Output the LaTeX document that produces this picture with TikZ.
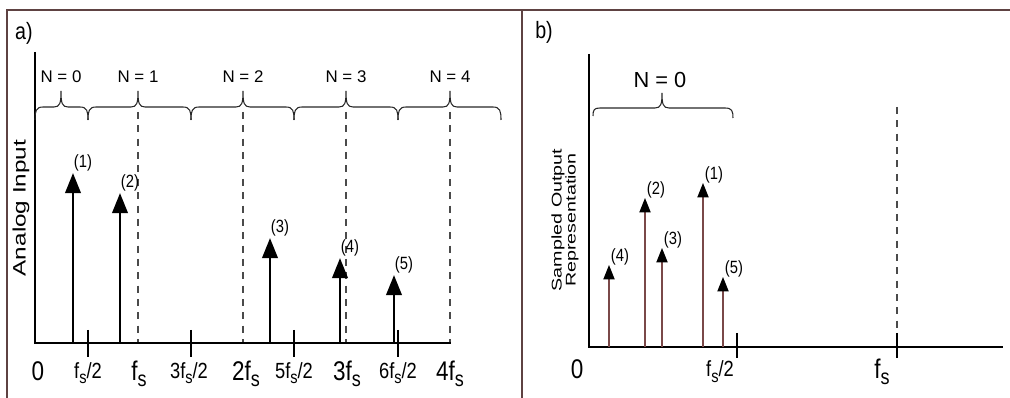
\documentclass[tikz,border=0pt]{standalone}
\usepackage{fontspec}
\setmainfont{Liberation Sans}
\usepackage{graphicx}
\usetikzlibrary{arrows.meta}
\definecolor{framebrown}{HTML}{5E4242}
\definecolor{stembrown}{HTML}{7A4848}
\definecolor{dashgray}{HTML}{4A4A4A}
\newcommand{\fsub}{f\raisebox{-0.45ex}{\scalebox{0.8}{s}}}
\newcommand{\tall}[1]{\scalebox{1}[1.2]{#1}}
\tikzset{
  framebox/.style={draw=framebrown,line width=0.9pt},
  axisline/.style={line width=2.1pt,color=black,line join=miter},
  tickline/.style={line width=1.6pt,color=black},
  zoneline/.style={dashgray,line width=0.8pt,dash pattern=on 5pt off 4.5pt},
  braceline/.style={line width=0.75pt,color=black!85},
  bigstem/.style={line width=2.1pt,-{Triangle[length=5mm,width=3.8mm]}},
  smallstem/.style={line width=0.9pt,color=stembrown,
                    -{Triangle[length=3.6mm,width=2.8mm,color=black]}},
  tagtext/.style={font=\fontsize{14}{14}\selectfont,inner sep=0pt},
  zonetext/.style={font=\fontsize{12}{12}\selectfont,inner sep=0pt},
  pulsetext/.style={font=\fontsize{10.5}{10.5}\selectfont,inner sep=0pt},
  bigtick/.style={font=\fontsize{16}{16}\selectfont,anchor=base,inner sep=0pt},
  halftick/.style={font=\fontsize{13}{13}\selectfont,anchor=base,inner sep=0pt}
}

\begin{document}
\begin{tikzpicture}[x=0.025cm,y=-0.025cm]
  \useasboundingbox (0,0) rectangle (1010,398);
  % frame and panel tags
  \draw[framebox] (7,398) -- (7,10) -- (1010,10);
  \draw[framebox] (522,10) -- (522,398);
  \node[tagtext] (taga) at (24,33) {\tall{a)}};
  \node[tagtext] (tagb) at (544,32) {\tall{b)}};

  % ---- a) analog input
  \foreach \x in {138,243,346,450}
    \draw[zoneline] (\x,112) -- (\x,343);
  \foreach \x in {88,191,294,398}
    \draw[tickline] (\x,330) -- (\x,357);
  \draw[axisline] (35,52) -- (35,343) -- (451,343);
  \foreach \xa/\xm/\xb/\n in {35/61/88/0, 88/138/191/1, 191/243/294/2,
                             294/346/398/3, 398/450/501/4}{
    \draw[braceline] (\xa,120) .. controls (\xa,111) and ({\xa+1},107) .. ({\xa+8},107)
      -- ({\xm-7},107) .. controls ({\xm-1},107) and (\xm,103) .. (\xm,91)
      .. controls (\xm,103) and ({\xm+1},107) .. ({\xm+7},107)
      -- ({\xb-8},107) .. controls ({\xb-1},107) and (\xb,111) .. (\xb,120);
    \node[zonetext] (na\n) at (\xm,77) {N = \n};
  }
  \foreach \x/\y/\n in {73/173/1, 120/193/2, 270/238/3, 340/258/4, 394/275/5}{
    \draw[bigstem] (\x,343) -- (\x,\y);
    \node[pulsetext] (pa\n) at ({\x+10},{\y-10}) {\tall{(\n)}};
  }
  \foreach \x/\lab [count=\i] in {38/0, 139/\fsub, 246/2\fsub, 347/3\fsub, 450/4\fsub}
    \node[bigtick] (tka\i) at (\x,380) {\tall{\lab}};
  \foreach \x/\lab [count=\i] in {88/{\fsub/2}, 189/{3\fsub/2}, 294/{5\fsub/2}, 398/{6\fsub/2}}
    \node[halftick] (hka\i) at (\x,378) {\tall{\lab}};
  \node[rotate=90,font=\fontsize{12.8}{12.8}\selectfont,inner sep=0pt] (ylaba) at (21,208)
    {\scalebox{1.35}[1]{Analog Input}};

  % ---- b) sampled output
  \draw[zoneline] (897,107) -- (897,347);
  \foreach \x in {737,897}
    \draw[tickline] (\x,333) -- (\x,358);
  \draw[axisline] (589,54) -- (589,347) -- (1003,347);
  \draw[braceline] (593,116) .. controls (593,110) and (594,108) .. (600,108)
    -- (655,108) .. controls (661,108) and (662,104) .. (662,93)
    .. controls (662,104) and (663,108) .. (669,108)
    -- (725,108) .. controls (732,108) and (733,111) .. (733,118);
  \node[font=\fontsize{15.5}{15.5}\selectfont,inner sep=0pt] (nb0) at (660,80) {N = 0};
  \foreach \x/\y/\n in {609/265/4, 645/198/2, 662/248/3, 703/183/1, 723/277/5}{
    \draw[smallstem] (\x,347) -- (\x,\y);
    \node[pulsetext] (pb\n) at ({\x+11},{\y-8}) {\tall{(\n)}};
  }
  \node[bigtick] (tkb1) at (577,378) {\tall{0}};
  \node[halftick] (hkb1) at (720,377) {\tall{\fsub/2}};
  \node[bigtick] (tkb2) at (882,378) {\tall{\fsub}};
  \node[rotate=90,align=center,font=\fontsize{10}{10}\selectfont,inner sep=0pt] (ylabb) at (565,220)
    {\scalebox{1.4}[1]{Sampled Output}\\\scalebox{1.4}[1]{Representation}};
\end{tikzpicture}
\end{document}
